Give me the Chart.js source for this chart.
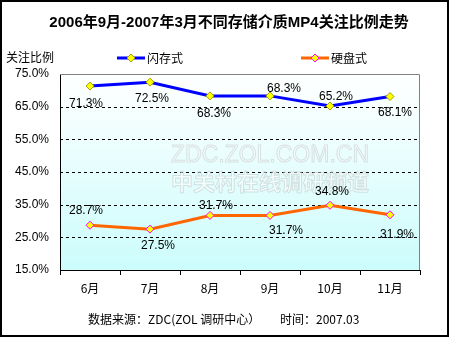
<!DOCTYPE html>
<html>
<head>
<meta charset="utf-8">
<script src="https://cdn.jsdelivr.net/npm/chart.js@4/dist/chart.umd.min.js"></script>
<style>
  body { margin: 0; background: #fff; }
  #wrap { width: 450px; height: 337px; }
</style>
</head>
<body>
<div id="wrap"><canvas id="mp4Chart" width="450" height="337"></canvas></div>
<script>
const months = ['6月', '7月', '8月', '9月', '10月', '11月'];
const flashShare = [71.3, 72.5, 68.3, 68.3, 65.2, 68.1];
const diskShare = [28.7, 27.5, 31.7, 31.7, 34.8, 31.9];
const yTicks = [15, 25, 35, 45, 55, 65, 75];

// label nudges (px) relative to each point
const flashLabelPos = { dx: [-4, 2, 4, 14, 6, 5], dy: [18, 17, 18, -7, -9, 16] };
const diskLabelPos = { dx: [-4, 8, 6, 16, 2, 7], dy: [-15, 17, -10, 15, -14, 20] };

const FONT = "'Liberation Sans', Arial, 'Noto Sans CJK SC', sans-serif";
const CJK = "'Noto Sans CJK SC', 'Liberation Sans', sans-serif";

// background, frame, plot gradient, watermark
const backdrop = {
  id: 'backdrop',
  beforeDraw(chart) {
    const { ctx, chartArea: a } = chart;
    ctx.save();
    ctx.fillStyle = '#fff';
    ctx.fillRect(0, 0, chart.width, chart.height);
    const g = ctx.createLinearGradient(0, a.top, 0, a.bottom);
    g.addColorStop(0, '#ffffff');
    g.addColorStop(1, '#ccfcfc');
    ctx.fillStyle = g;
    ctx.fillRect(a.left, a.top, a.right - a.left, a.bottom - a.top);
    ctx.restore();
  },
  beforeDatasetsDraw(chart) {
    const { ctx, chartArea: a } = chart;
    const ys = chart.scales.y;
    ctx.save();
    // dashed gridlines
    ctx.strokeStyle = '#000';
    ctx.lineWidth = 1;
    ctx.setLineDash([3, 3]);
    yTicks.forEach(v => {
      if (v === ys.min || v === ys.max) return;
      const y = Math.round(ys.getPixelForValue(v)) + 0.5;
      ctx.beginPath();
      ctx.moveTo(a.left, y);
      ctx.lineTo(a.right, y);
      ctx.stroke();
    });
    ctx.setLineDash([]);

    // watermark
    ctx.textAlign = 'center';
    ctx.textBaseline = 'middle';
    ctx.lineWidth = 1;
    ctx.strokeStyle = 'rgba(170,170,170,0.35)';
    ctx.fillStyle = 'rgba(255,255,255,0.5)';
    ctx.font = "23px 'Liberation Sans', Arial, sans-serif";
    ctx.fillText('ZDC.ZOL.COM.CN', 270, 156);
    ctx.strokeText('ZDC.ZOL.COM.CN', 270, 156);
    ctx.font = "bold 22px " + CJK;
    ctx.fillText('中关村在线调研频道', 270, 182);
    ctx.strokeText('中关村在线调研频道', 270, 182);
    ctx.restore();
  },
  afterDraw(chart) {
    const { ctx, chartArea: a } = chart;
    ctx.save();
    // grey top/right plot border
    ctx.strokeStyle = '#808080';
    ctx.lineWidth = 1;
    ctx.beginPath();
    ctx.moveTo(a.left, a.top + 0.5);
    ctx.lineTo(a.right - 0.5, a.top + 0.5);
    ctx.lineTo(a.right - 0.5, a.bottom);
    ctx.stroke();
    // outer frame
    ctx.strokeStyle = '#000';
    ctx.lineWidth = 2;
    ctx.strokeRect(1, 1, 447, 335);

    ctx.fillStyle = '#000';
    ctx.textBaseline = 'middle';
    ctx.textAlign = 'center';
    ctx.font = "bold 15px " + FONT;
    ctx.fillText('2006年9月-2007年3月不同存储介质MP4关注比例走势', 229, 23);

    ctx.textAlign = 'left';
    ctx.font = "12px " + CJK;
    ctx.fillText('关注比例', 6, 57);

    // legend
    const items = [
      { x: 117, text: '闪存式', line: '#0000ff', border: '#a0a000' },
      { x: 301, text: '硬盘式', line: '#ff6600', border: '#ff00ff' }
    ];
    items.forEach(it => {
      ctx.strokeStyle = it.line;
      ctx.lineWidth = 3;
      ctx.beginPath();
      ctx.moveTo(it.x, 58);
      ctx.lineTo(it.x + 28, 58);
      ctx.stroke();
      ctx.beginPath();
      ctx.moveTo(it.x + 10, 58);
      ctx.lineTo(it.x + 14, 54);
      ctx.lineTo(it.x + 18, 58);
      ctx.lineTo(it.x + 14, 62);
      ctx.closePath();
      ctx.fillStyle = '#ffff00';
      ctx.fill();
      ctx.lineWidth = 1;
      ctx.strokeStyle = it.border;
      ctx.stroke();
      ctx.fillStyle = '#000';
      ctx.font = "12px " + CJK;
      ctx.fillText(it.text, it.x + 30, 58);
    });

    // footer
    ctx.font = "12px " + CJK;
    ctx.fillText('数据来源：ZDC(ZOL 调研中心）', 88, 319);
    ctx.fillText('时间：2007.03', 280, 319);

    // value labels
    ctx.textAlign = 'center';
    ctx.font = "12px " + FONT;
    const pos = [flashLabelPos, diskLabelPos];
    chart.data.datasets.forEach((ds, di) => {
      const meta = chart.getDatasetMeta(di);
      meta.data.forEach((pt, i) => {
        const txt = ds.data[i].toFixed(1) + '%';
        ctx.fillText(txt, pt.x + pos[di].dx[i], pt.y + pos[di].dy[i]);
      });
    });
    ctx.restore();
  }
};

const ctx = document.getElementById('mp4Chart').getContext('2d');

new Chart(ctx, {
  type: 'line',
  data: {
    labels: months,
    datasets: [
      {
        label: '闪存式',
        data: flashShare,
        borderColor: '#0000ff',
        borderWidth: 3,
        tension: 0,
        pointStyle: 'rectRot',
        pointRadius: 4,
        pointBackgroundColor: '#ffff00',
        pointBorderColor: '#a0a000',
        pointBorderWidth: 1
      },
      {
        label: '硬盘式',
        data: diskShare,
        borderColor: '#ff6600',
        borderWidth: 3,
        tension: 0,
        pointStyle: 'rectRot',
        pointRadius: 4,
        pointBackgroundColor: '#ffff00',
        pointBorderColor: '#ff00ff',
        pointBorderWidth: 1
      }
    ]
  },
  options: {
    responsive: false,
    animation: false,
    layout: { padding: { left: 0, right: 30, top: 74, bottom: 0 } },
    plugins: {
      legend: { display: false },
      title: { display: false },
      tooltip: { enabled: false }
    },
    scales: {
      x: {
        offset: true,
        afterFit: s => { s.height = 67; },
        grid: {
          offset: true,
          drawOnChartArea: false,
          drawTicks: true,
          tickLength: 5,
          color: '#000'
        },
        border: { color: '#000', width: 1 },
        ticks: {
          color: '#000',
          padding: 6,
          font: { size: 12, family: CJK }
        }
      },
      y: {
        min: 15,
        max: 75,
        afterFit: s => { s.width = 60; },
        afterBuildTicks: s => { s.ticks = yTicks.map(v => ({ value: v })); },
        grid: { display: false, drawTicks: false },
        border: { display: true, color: '#000', width: 1 },
        ticks: {
          color: '#000',
          padding: 11,
          font: { size: 12, family: FONT },
          callback: v => v.toFixed(1) + '%'
        }
      }
    }
  },
  plugins: [backdrop]
});
</script>
</body>
</html>
